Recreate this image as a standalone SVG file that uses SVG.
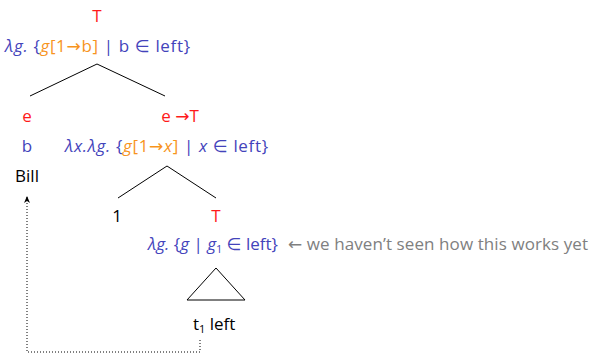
<svg xmlns="http://www.w3.org/2000/svg" width="590" height="354" viewBox="0 0 590 354">
<defs>
<style>
text{font-family:"Open Sans","DejaVu Sans",sans-serif;font-size:17px}
.r{fill:#ff1a1a}
.b{fill:#4343bb}
.o{fill:#f7941d}
.k{fill:#000}
.g{fill:#808080}
.i{font-style:italic}
.edge{stroke:#000;stroke-width:1;fill:none}
.dot{stroke:#000;stroke-width:1;fill:none;stroke-dasharray:1 2}
</style>
<marker id="ah" markerWidth="8" markerHeight="8" refX="7" refY="3" orient="auto" markerUnits="userSpaceOnUse">
<path d="M0,0 L7,3 L0,6 L2,3 Z" fill="#000"/>
</marker>
</defs>
<g id="root">
<text x="97" y="22" text-anchor="middle" class="r">T</text>
<text x="5" y="52" class="b" textLength="185"><tspan class="i">λg.</tspan> {<tspan class="o"><tspan class="i">g</tspan>[1→b]</tspan> | b ∈ left}</text>
</g>
<g id="bill">
<text x="27" y="122" text-anchor="middle" class="r">e</text>
<text x="27" y="152" text-anchor="middle" class="b">b</text>
<text x="27" y="182" text-anchor="middle" class="k">Bill</text>
</g>
<g id="vp">
<text x="180" y="122" text-anchor="middle" class="r">e →T</text>
<text x="65" y="152" class="b" textLength="203"><tspan class="i">λx.λg.</tspan> {<tspan class="o"><tspan class="i">g</tspan>[1→<tspan class="i">x</tspan>]</tspan> | <tspan class="i">x</tspan> ∈ left}</text>
</g>
<g id="one">
<text x="117" y="222" text-anchor="middle" class="k">1</text>
</g>
<g id="s">
<text x="216" y="222" text-anchor="middle" class="r">T</text>
<text x="148" y="250" class="b"><tspan class="i">λg.</tspan> {<tspan class="i">g</tspan> | <tspan class="i">g</tspan><tspan font-size="11" dy="3">1</tspan><tspan dy="-3"> ∈ left}</tspan></text>
<text x="288" y="250" class="g" textLength="300">← we haven’t seen how this works yet</text>
</g>
<g id="leaf">
<path class="edge" d="M216,268 L187,300 L245,300 Z"/>
<text x="193" y="330" class="k">t<tspan font-size="11" dy="3">1</tspan><tspan dy="-3">  left</tspan></text>
</g>
<g id="connectors">
<path class="edge" d="M97,64 L30,96 M97,64 L165,96"/>
<path class="edge" d="M167,166 L118,198 M167,166 L216,198"/>
<path class="dot" d="M200,340 L200,352 L27,352 L27,196" marker-end="url(#ah)"/>
</g>
</svg>
